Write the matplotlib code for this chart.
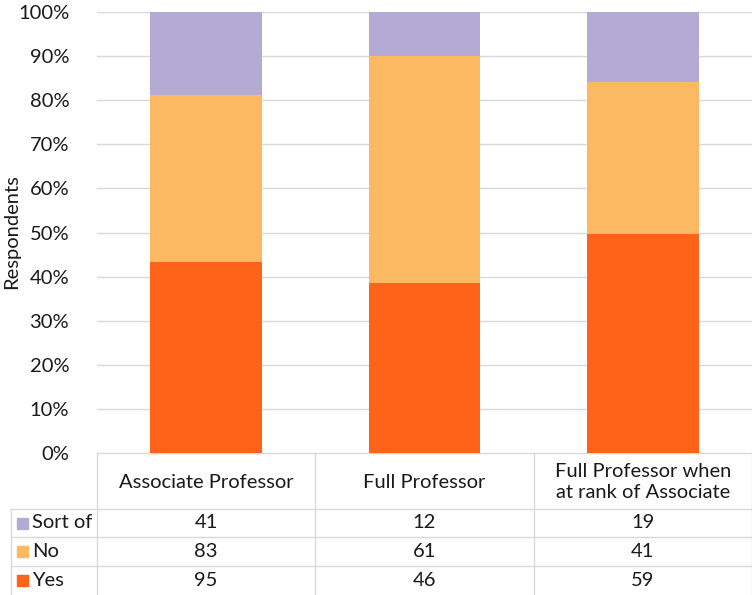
import matplotlib
matplotlib.use("Agg")
import matplotlib.pyplot as plt
import numpy as np

categories = ["Associate Professor", "Full Professor", "Full Professor when\nat rank of Associate"]
series_names = ["Sort of", "No", "Yes"]
sort_of = [41, 12, 19]
no = [83, 61, 41]
yes = [95, 46, 59]
colors = {"Yes": "#FF6319", "No": "#FDB862", "Sort of": "#B4ABD5"}
yticks = [0, 10, 20, 30, 40, 50, 60, 70, 80, 90, 100]

plt.rcParams['font.family'] = ['Lato', 'DejaVu Sans']
FS = 14.5
W, H = 752, 595
fig = plt.figure(figsize=(W/100, H/100), dpi=100)

L, R, T, B = 97, 752, 12, 453
ax = fig.add_axes([L/W, 1-B/H, (R-L)/W, (B-T)/H])

tot = np.array(yes) + np.array(no) + np.array(sort_of)
py = np.array(yes) / tot * 100
pn = np.array(no) / tot * 100
ps = np.array(sort_of) / tot * 100
x = np.arange(len(categories))
bw = 0.51
ax.bar(x, py, bw, color=colors["Yes"], zorder=3)
ax.bar(x, pn, bw, bottom=py, color=colors["No"], zorder=3)
ax.bar(x, ps, bw, bottom=py+pn, color=colors["Sort of"], zorder=3)
ax.set_xlim(-0.5, len(categories)-0.5)
ax.set_ylim(0, 100)
ax.set_yticks(yticks)
ax.set_yticklabels([f"{t}%" for t in yticks], fontsize=FS, color="#1a1a1a")
ax.set_xticks([])
ax.yaxis.grid(True, color="#d9d9d9", lw=1, zorder=0)
for s in ax.spines.values():
    s.set_visible(False)
ax.tick_params(axis='y', length=0, pad=20)
fig.text(12/W, 1-232/H, "Respondents", rotation=90, ha="center", va="center", fontsize=FS, color="#1a1a1a")

# table
tab = fig.add_axes([0, 0, 1, 1], zorder=-1)
tab.set_xlim(0, W); tab.set_ylim(H, 0); tab.axis("off")
lc = "#d9d9d9"
colw = (R-L)/len(categories)
col_edges = [L + i*colw for i in range(len(categories)+1)]
row_edges = [509, 537, 566, 594]
hdr_bot = row_edges[0]
for xe in col_edges:
    tab.plot([xe, xe], [B, H], color=lc, lw=1)
tab.plot([L, R], [B, B], color=lc, lw=1)
for ye in row_edges[:-1]:
    tab.plot([11, R], [ye, ye], color=lc, lw=1)
tab.plot([11, 11], [hdr_bot, H], color=lc, lw=1)
for i, c in enumerate(categories):
    cx = L + colw*(i+0.5)
    tab.text(cx, (B+hdr_bot)/2+1, c, ha="center", va="center", fontsize=FS, color="#1a1a1a", linespacing=1.25)
data = {"Sort of": sort_of, "No": no, "Yes": yes}
for j, name in enumerate(series_names):
    cy = (row_edges[j] + row_edges[j+1])/2
    tab.add_patch(plt.Rectangle((17, cy-5.5), 11, 11, color=colors[name]))
    tab.text(32, cy, name, ha="left", va="center", fontsize=FS, color="#1a1a1a")
    for i, v in enumerate(data[name]):
        cx = L + colw*(i+0.5)
        tab.text(cx, cy, str(v), ha="center", va="center", fontsize=FS, color="#1a1a1a")

fig.savefig("out.png", dpi=100)
